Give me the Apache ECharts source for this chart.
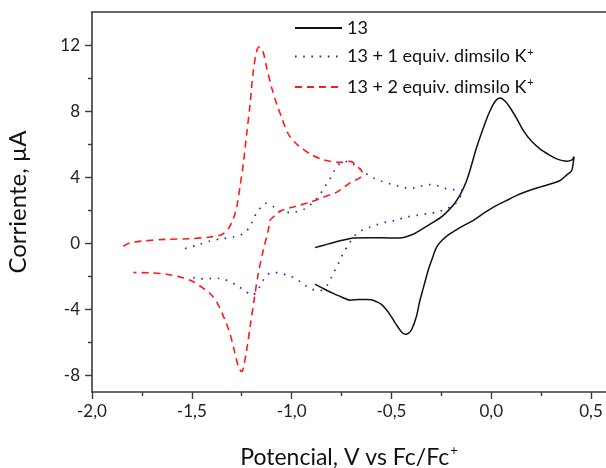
<!DOCTYPE html>
<html>
<head>
<meta charset="utf-8">
<script src="https://cdn.jsdelivr.net/npm/echarts@6/dist/echarts.min.js"></script>
<style>
  html, body { margin: 0; padding: 0; background: #fff; }
  #chart { width: 606px; height: 468px; }
</style>
</head>
<body>
<div id="chart"></div>
<script>
// Cyclic voltammograms: potential (V vs Fc/Fc+) and current (µA), in scan order.
const potential13 = [-0.883,-0.84,-0.79,-0.74,-0.691,-0.62,-0.55,-0.457,-0.40,-0.357,-0.30,-0.240,-0.173,-0.123,-0.073,-0.03,-0.006,0.02,0.044,0.07,0.094,0.13,0.161,0.20,0.244,0.29,0.328,0.378,0.405,0.415,0.41,0.403,0.375,0.345,0.30,0.244,0.18,0.128,0.07,0.011,-0.04,-0.090,-0.15,-0.206,-0.245,-0.273,-0.295,-0.315,-0.340,-0.360,-0.374,-0.398,-0.415,-0.432,-0.45,-0.474,-0.50,-0.524,-0.55,-0.574,-0.60,-0.624,-0.66,-0.707,-0.75,-0.791,-0.84,-0.883];
const current13 = [-0.26,-0.12,0.05,0.2,0.32,0.33,0.33,0.32,0.5,0.78,1.2,1.69,2.59,3.8,5.81,7.3,8.02,8.6,8.79,8.6,8.22,7.5,6.82,6.2,5.71,5.35,5.11,4.97,5.05,5.25,4.8,4.4,4.1,3.8,3.6,3.4,3.15,2.9,2.55,2.19,1.8,1.39,1.0,0.58,0.2,-0.22,-0.9,-1.6,-2.7,-3.6,-4.4,-5.2,-5.45,-5.5,-5.35,-4.95,-4.45,-4.04,-3.7,-3.54,-3.42,-3.4,-3.4,-3.44,-3.25,-3.03,-2.75,-2.47];

const potential1eq = [-1.534,-1.47,-1.409,-1.35,-1.292,-1.242,-1.208,-1.192,-1.167,-1.145,-1.133,-1.112,-1.092,-1.07,-1.05,-1.008,-0.975,-0.933,-0.891,-0.858,-0.833,-0.808,-0.786,-0.758,-0.73,-0.707,-0.686,-0.666,-0.632,-0.591,-0.549,-0.507,-0.465,-0.423,-0.382,-0.34,-0.298,-0.257,-0.223,-0.181,-0.14,-0.15,-0.156,-0.181,-0.223,-0.273,-0.323,-0.373,-0.423,-0.482,-0.524,-0.566,-0.607,-0.649,-0.691,-0.716,-0.741,-0.758,-0.779,-0.799,-0.821,-0.84,-0.858,-0.9,-0.941,-0.98,-1.022,-1.063,-1.1,-1.125,-1.142,-1.162,-1.18,-1.192,-1.212,-1.233,-1.275,-1.318,-1.359,-1.4,-1.442,-1.484,-1.523];
const current1eq = [-0.32,-0.1,0.14,0.28,0.38,0.58,1.03,1.49,1.99,2.3,2.43,2.35,2.23,2.05,1.89,1.87,1.91,2.09,2.49,2.96,3.44,3.9,4.4,4.84,4.95,4.9,4.75,4.6,4.26,3.96,3.76,3.6,3.46,3.36,3.36,3.5,3.56,3.44,3.3,3.24,3.2,2.95,2.79,2.39,2.09,1.89,1.79,1.69,1.59,1.38,1.29,1.15,0.98,0.78,0.38,-0.12,-0.58,-1.03,-1.53,-2.03,-2.53,-2.75,-2.88,-2.77,-2.47,-2.13,-1.93,-1.79,-1.77,-1.95,-2.23,-2.67,-2.95,-3.14,-3.05,-2.9,-2.53,-2.27,-2.13,-2.13,-2.15,-2.09,-2.03];

const potential2eq = [-1.843,-1.81,-1.743,-1.626,-1.509,-1.409,-1.351,-1.317,-1.292,-1.275,-1.259,-1.242,-1.225,-1.208,-1.192,-1.175,-1.162,-1.145,-1.125,-1.1,-1.075,-1.05,-1.017,-0.975,-0.908,-0.841,-0.758,-0.707,-0.666,-0.643,-0.66,-0.707,-0.774,-0.841,-0.908,-0.983,-1.05,-1.075,-1.092,-1.108,-1.117,-1.142,-1.167,-1.188,-1.208,-1.225,-1.242,-1.25,-1.259,-1.267,-1.284,-1.309,-1.334,-1.367,-1.4,-1.442,-1.492,-1.551,-1.626,-1.709,-1.793];
const current2eq = [-0.18,0.02,0.14,0.24,0.28,0.38,0.52,0.89,1.49,2.19,3.4,4.81,6.62,8.43,10.43,11.64,11.88,11.68,10.63,9.43,8.43,7.62,6.62,6.01,5.41,5.05,4.9,4.96,4.6,4.2,3.95,3.66,3.1,2.79,2.49,2.23,1.99,1.8,1.59,1.39,0.78,-0.42,-1.83,-3.44,-5.05,-6.45,-7.56,-7.76,-7.65,-7.46,-6.65,-5.45,-4.64,-3.74,-3.14,-2.73,-2.33,-2.07,-1.87,-1.79,-1.77];

const seriesNames = ['13', '13 + 1 equiv. dimsilo K+', '13 + 2 equiv. dimsilo K+'];

// Axis ticks
const xMajorTicks = [-2.0, -1.5, -1.0, -0.5, 0.0, 0.5];
const xMinorTicks = [-1.75, -1.25, -0.75, -0.25, 0.25];
const yMajorTicks = [-8, -4, 0, 4, 8, 12];
const yMinorTicks = [-6, -2, 2, 6, 10];

const zip = (xs, ys) => xs.map((x, i) => [x, ys[i]]);

const FONT = 'Lato';
const AXIS_COLOR = '#3a3a3a';
const X_MIN = -2.0, X_MAX = 0.575, Y_MIN = -9, Y_MAX = 14;

const chart = echarts.init(document.getElementById('chart'), null, { renderer: 'canvas' });

const legendRich = {
  t: { fontFamily: FONT, fontSize: 18, color: '#111', lineHeight: 20 },
  sup: { fontFamily: FONT, fontSize: 11, color: '#111', verticalAlign: 'top', padding: [0, 0, 10, 1], lineHeight: 20 }
};

chart.setOption({
  animation: false,
  backgroundColor: '#fff',
  grid: { left: 92, right: 0, top: 12, bottom: 76, containLabel: false, outerBoundsMode: 'none' },
  legend: {
    orient: 'vertical',
    left: 294,
    top: 19,
    padding: 0,
    itemWidth: 47,
    itemHeight: 14,
    itemGap: 9.5,
    data: seriesNames,
    itemStyle: { opacity: 0 },
    formatter: (name) => name.endsWith('K+') ? '{t|' + name.slice(0, -1) + '}{sup|+}' : '{t|' + name + '}',
    textStyle: { rich: legendRich }
  },
  xAxis: [
    {
      type: 'value', position: 'bottom', min: X_MIN, max: X_MAX,
      name: '{t|Potencial, V vs Fc/Fc}{sup|+}',
      nameLocation: 'middle', nameGap: 52,
      nameTextStyle: {
        rich: {
          t: { fontFamily: FONT, fontSize: 23, color: '#111', lineHeight: 28 },
          sup: { fontFamily: FONT, fontSize: 13, color: '#111', verticalAlign: 'top', padding: [0, 0, 13, 1], lineHeight: 28 }
        }
      },
      axisLine: { show: true, onZero: false, lineStyle: { color: AXIS_COLOR, width: 1.6 } },
      axisTick: { show: true, inside: false, length: 7, customValues: xMajorTicks, lineStyle: { color: AXIS_COLOR, width: 1.4 } },
      axisLabel: {
        customValues: xMajorTicks, margin: 11,
        fontFamily: FONT, fontSize: 17, color: '#222',
        formatter: (v) => v.toFixed(1).replace('.', ',')
      },
      splitLine: { show: false }
    },
    {
      type: 'value', position: 'bottom', min: X_MIN, max: X_MAX,
      axisLine: { show: false, onZero: false },
      axisTick: { show: true, inside: false, length: 4, customValues: xMinorTicks, lineStyle: { color: AXIS_COLOR, width: 1.4 } },
      axisLabel: { show: false },
      splitLine: { show: false }
    },
    {
      type: 'value', position: 'top', min: X_MIN, max: X_MAX,
      axisLine: { show: true, onZero: false, lineStyle: { color: AXIS_COLOR, width: 1.6 } },
      axisTick: { show: false },
      axisLabel: { show: false },
      splitLine: { show: false }
    }
  ],
  yAxis: [
    {
      type: 'value', position: 'left', min: Y_MIN, max: Y_MAX,
      name: 'Corriente, µA',
      nameLocation: 'middle', nameGap: 62, nameRotate: 90,
      nameTextStyle: { fontFamily: FONT, fontSize: 24, color: '#111' },
      axisLine: { show: true, onZero: false, lineStyle: { color: AXIS_COLOR, width: 1.6 } },
      axisTick: { show: true, inside: false, length: 7, customValues: yMajorTicks, lineStyle: { color: AXIS_COLOR, width: 1.4 } },
      axisLabel: { customValues: yMajorTicks, margin: 12, fontFamily: FONT, fontSize: 17, color: '#222' },
      splitLine: { show: false }
    },
    {
      type: 'value', position: 'left', min: Y_MIN, max: Y_MAX,
      axisLine: { show: false, onZero: false },
      axisTick: { show: true, inside: false, length: 4, customValues: yMinorTicks, lineStyle: { color: AXIS_COLOR, width: 1.4 } },
      axisLabel: { show: false },
      splitLine: { show: false }
    }
  ],
  series: [
    {
      name: seriesNames[0], type: 'line', xAxisIndex: 0, yAxisIndex: 0,
      data: zip(potential13, current13),
      showSymbol: false, symbol: 'none', smooth: 0.3,
      lineStyle: { color: '#111', width: 1.5, type: 'solid' },
      itemStyle: { color: '#111' }
    },
    {
      name: seriesNames[1], type: 'line', xAxisIndex: 0, yAxisIndex: 0,
      data: zip(potential1eq, current1eq),
      showSymbol: false, symbol: 'none', smooth: 0.3,
      lineStyle: { color: '#2a2ab8', width: 1.7, type: [1.6, 6.6] },
      itemStyle: { color: '#2a2ab8' }
    },
    {
      name: seriesNames[2], type: 'line', xAxisIndex: 0, yAxisIndex: 0,
      data: zip(potential2eq, current2eq),
      showSymbol: false, symbol: 'none', smooth: 0.3,
      lineStyle: { color: '#ff1a1a', width: 1.6, type: [7, 5] },
      itemStyle: { color: '#ff1a1a' }
    }
  ]
});
</script>
</body>
</html>
